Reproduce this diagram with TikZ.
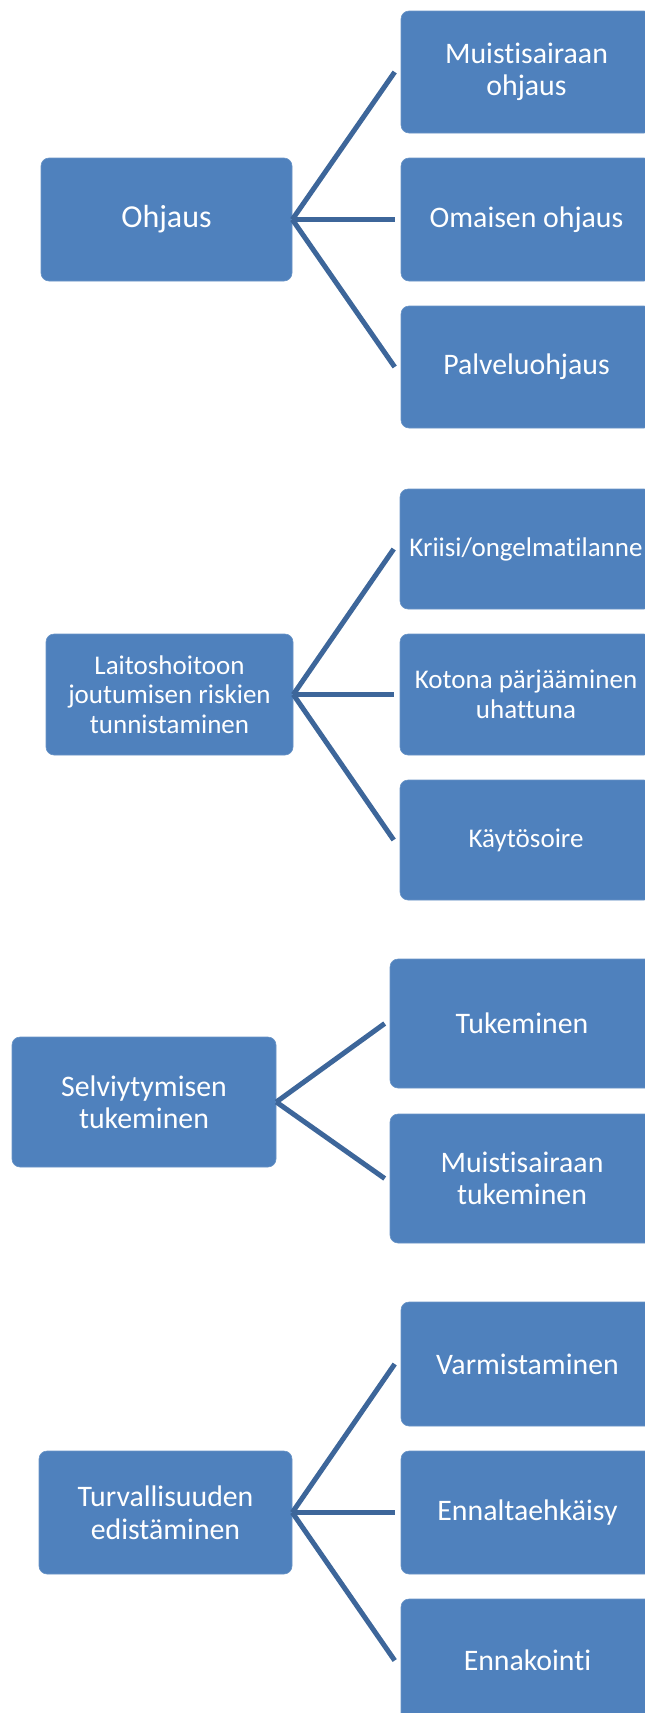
\documentclass[tikz,border=0pt]{standalone}
\usepackage{fontspec}
\setmainfont{Carlito}[Ligatures=NoCommon]
\definecolor{boxblue}{HTML}{4F81BD}
\definecolor{linkblue}{HTML}{3D669A}
\tikzset{
  box/.style={rectangle, rounded corners=8pt, fill=boxblue, draw=boxblue!85!white, line width=0.6pt,
              text=white, align=center, inner sep=0pt},
  big/.style={font=\fontsize{29.8}{32.5}\selectfont},
  huge/.style={font=\fontsize{32}{35}\selectfont},
  small/.style={font=\fontsize{27}{29.5}\selectfont},
  link/.style={draw=linkblue, line width=5pt}
}
\begin{document}
\begin{tikzpicture}[x=1pt,y=-1pt]
\useasboundingbox (0,0) rectangle (645,1713);
\fill[white] (0,0) rectangle (645,1713);
\clip (0,0) rectangle (645,1713);

% Ohjaus
\node[box, huge, minimum width=251pt, minimum height=123pt] (p1) at (166.5,219.5) {Ohjaus};
\node[box, big, minimum width=251pt, minimum height=122pt] (c11) at (526.5,72) {Muistisairaan\\ohjaus};
\node[box, big, minimum width=251pt, minimum height=123pt] (c12) at (526.5,219.5) {Omaisen ohjaus};
\node[box, big, minimum width=251pt, minimum height=122pt] (c13) at (526.5,367) {Palveluohjaus};
\foreach \c in {c11,c12,c13}
  \draw[link] (p1.east) -- ([xshift=-6pt]\c.west);

% Laitoshoitoon joutumisen riskien tunnistaminen
\node[box, small, minimum width=247pt, minimum height=121pt] (p2) at (169.5,694.5) {Laitoshoitoon\\joutumisen riskien\\tunnistaminen};
\node[box, small, minimum width=252pt, minimum height=120pt] (c21) at (526,549) {Kriisi/ongelmatilanne};
\node[box, small, minimum width=252pt, minimum height=121pt] (c22) at (526,694.5) {Kotona pärjääminen\\uhattuna};
\node[box, small, minimum width=252pt, minimum height=120pt] (c23) at (526,840) {Käytösoire};
\foreach \c in {c21,c22,c23}
  \draw[link] (p2.east) -- ([xshift=-6pt]\c.west);

% Selviytymisen tukeminen
\node[box, big, minimum width=264pt, minimum height=130pt] (p3) at (144,1102) {Selviytymisen\\tukeminen};
\node[box, big, minimum width=264pt, minimum height=129pt] (c31) at (522,1023.5) {Tukeminen};
\node[box, big, minimum width=264pt, minimum height=129pt] (c32) at (522,1178.5) {Muistisairaan\\tukeminen};
\foreach \c in {c31,c32}
  \draw[link] (p3.east) -- ([xshift=-5pt]\c.west);

% Turvallisuuden edistäminen
\node[box, big, minimum width=253pt, minimum height=123pt] (p4) at (165.5,1512.5) {Turvallisuuden\\edistäminen};
\node[box, big, minimum width=253pt, minimum height=124pt] (c41) at (527.5,1364) {Varmistaminen};
\node[box, big, minimum width=253pt, minimum height=123pt] (c42) at (527.5,1512.5) {Ennaltaehkäisy};
\node[box, big, minimum width=253pt, minimum height=123pt] (c43) at (527.5,1660.5) {Ennakointi};
\foreach \c in {c41,c42,c43}
  \draw[link] (p4.east) -- ([xshift=-6pt]\c.west);
\end{tikzpicture}
\end{document}
